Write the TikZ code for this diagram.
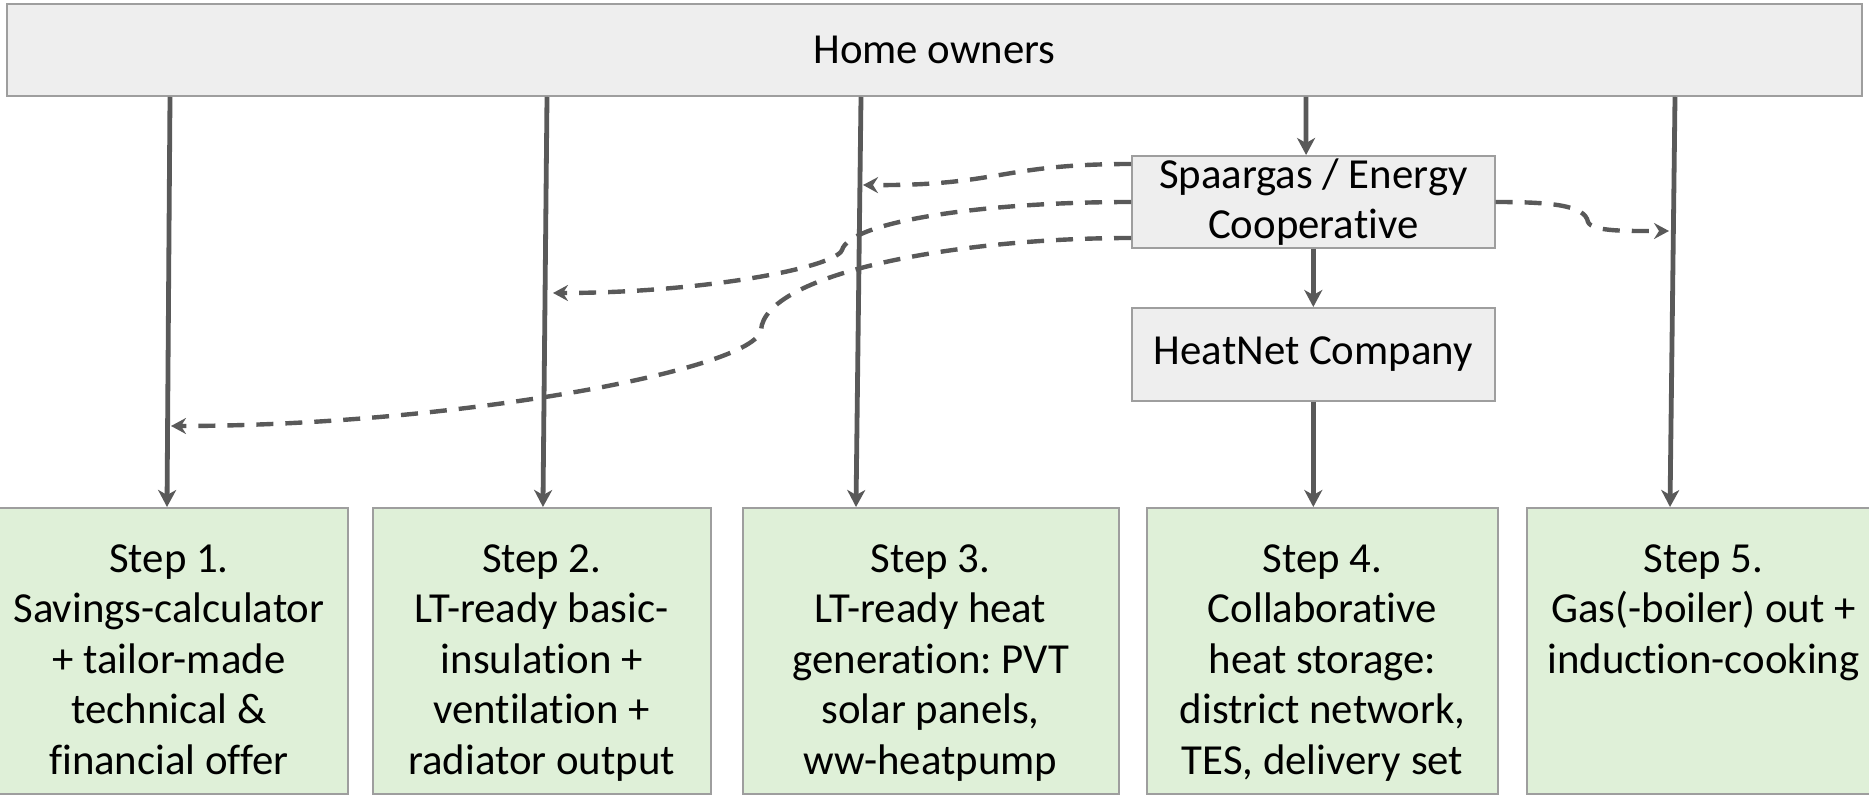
\documentclass[tikz,border=0pt]{standalone}
\usepackage{fontspec}
\setmainfont{Carlito}[Ligatures=NoCommon]
\usetikzlibrary{arrows.meta}
\definecolor{boxgray}{HTML}{EEEEEE}
\definecolor{bordergray}{HTML}{9E9E9E}
\definecolor{stepgreen}{HTML}{DFF0D8}
\definecolor{linegray}{HTML}{595959}
\frenchspacing
\begin{document}
\begin{tikzpicture}[x=0.5pt,y=-0.5pt,
  font=\fontsize{21.4}{25.3}\selectfont\frenchspacing,
  graybox/.style={draw=bordergray, line width=1pt, fill=boxgray, inner sep=0pt, align=center},
  stepbox/.style={draw=bordergray, line width=1pt, fill=stepgreen, inner sep=0pt},
  steptext/.style={align=center, inner sep=0pt, anchor=north},
  flow/.style={draw=linegray, line width=2.4pt, -{Stealth[length=8.5pt,width=9pt,inset=2.5pt]}},
  dflow/.style={draw=linegray, line width=2.2pt, dash pattern=on 8.5pt off 6pt, -{Stealth[length=7.5pt,width=8pt,inset=2.5pt]}}]
\useasboundingbox (0,0) rectangle (1869,795);
\clip (0,0) rectangle (1869,795);

% boxes
\node[graybox, minimum width=927.5pt, minimum height=46pt] (ho) at (934.5,50) {Home owners};
\node[graybox, minimum width=181.3pt, minimum height=46pt] (sp) at (1313.3,202) {Spaargas / Energy\\Cooperative};
\node[graybox, minimum width=181.3pt, minimum height=46.5pt] (hn) at (1313.3,354.5) {HeatNet Company};

\node[stepbox, minimum width=179pt, minimum height=143pt] (s1) at (169,651) {};
\node[stepbox, minimum width=168.75pt, minimum height=143pt] (s2) at (541.75,651) {};
\node[stepbox, minimum width=188pt, minimum height=143pt] (s3) at (930.6,651) {};
\node[stepbox, minimum width=175.5pt, minimum height=143pt] (s4) at (1322.5,651) {};
\node[stepbox, minimum width=176.5pt, minimum height=143pt] (s5) at (1703.5,651) {};

\node[steptext] (t1) at ([yshift=-18.5pt]s1.north) {Step 1.\\Savings-calculator\\+ tailor-made\\technical \&\\financial offer};
\node[steptext] (t2) at ([yshift=-18.5pt]s2.north) {Step 2.\\LT-ready basic-\\insulation +\\ventilation +\\radiator output};
\node[steptext] (t3) at ([yshift=-18.5pt]s3.north) {Step 3.\\LT-ready heat\\generation: PVT\\solar panels,\\ww-heatpump};
\node[steptext] (t4) at ([yshift=-18.5pt]s4.north) {Step 4.\\Collaborative\\heat storage:\\district network,\\TES, delivery set};
\node[steptext] (t5) at ([yshift=-18.5pt]s5.north) {Step 5.\\Gas(-boiler) out +\\induction-cooking};

% solid connectors
\draw[flow] ([xshift=-382.25pt]ho.south) -- ([xshift=-1pt]s1.north);
\draw[flow] ([xshift=-193.75pt]ho.south) -- ([xshift=0.6pt]s2.north);
\draw[flow] ([xshift=-36.75pt]ho.south) -- ([xshift=-37.3pt]s3.north);
\draw[flow] ([xshift=185.75pt]ho.south) -- ([xshift=-3.6pt]sp.north);
\draw[flow] (sp.south) -- (hn.north);
\draw[flow] (hn.south) -- (hn.south |- s4.north);
\draw[flow] ([xshift=370.25pt]ho.south) -- ([xshift=-16.75pt]s5.north);

% dashed connectors
\coordinate (e1) at (863,185);
\coordinate (k2) at (842,250);
\coordinate (e2) at (553,293);
\coordinate (k3) at (761,330);
\coordinate (e3) at (171,426);
\coordinate (k4) at (1588,222);
\coordinate (e4) at (1669,231);

\draw[dflow] ([yshift=19pt]sp.west) .. controls (1000,164) and (1000,186) .. (e1);
\draw[dflow] (sp.west) .. controls (980,202) and (850,222) .. (k2)
  .. controls (835,268) and (700,293) .. (e2);
\draw[dflow] ([yshift=-18pt]sp.west) .. controls (950,238) and (765,275) .. (k3)
  .. controls (755,370) and (450,426) .. (e3);
\draw[dflow] (sp.east) .. controls (1550,202) and (1585,205) .. (k4)
  .. controls (1592,232) and (1630,231) .. (e4);
\end{tikzpicture}
\end{document}
